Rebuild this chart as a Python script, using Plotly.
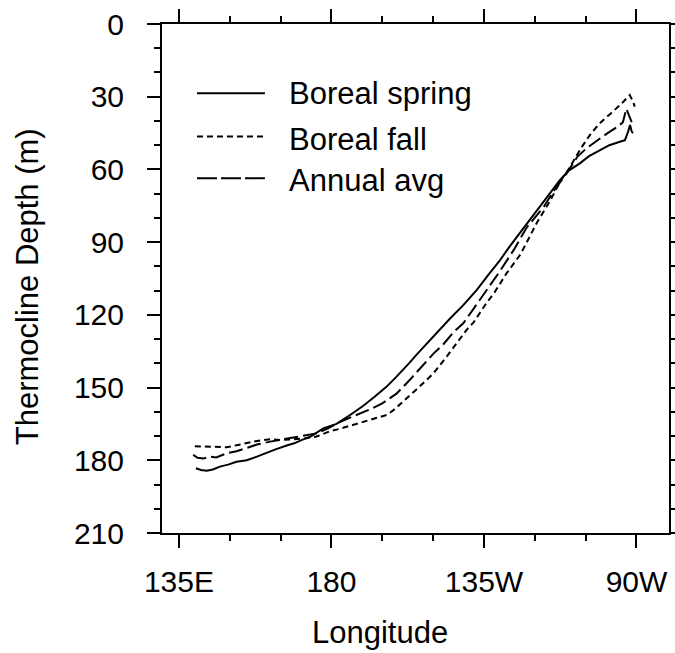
import plotly.graph_objects as go

# Longitude in degrees east (135E=135, 180=180, 135W=225, 90W=270)
spring_lon = [140.0, 141.5, 143.2, 145.0, 147.1, 149.5, 152.0, 155.0, 158.0, 160.5,
              163.5, 166.8, 169.0, 171.5, 173.7, 177.6, 181.5, 185.5, 189.4, 193.0,
              196.3, 199.0, 201.2, 203.0, 205.2, 208.5, 212.1, 215.0, 218.9, 222.9, 226.0,
              229.7, 233.0, 236.5, 239.6, 241.5, 244.5, 247.4, 250.0, 253.3, 256.0,
              259.2, 262.0, 265.1, 266.6, 267.5, 268.1, 268.6, 269.0]
spring_dep = [183.3, 184.0, 184.3, 183.8, 182.6, 181.8, 180.6, 180.0, 178.5, 177.0,
              175.5, 173.9, 173.0, 171.5, 170.3, 166.8, 165.0, 161.3, 157.5, 153.5,
              149.6, 145.8, 142.6, 139.8, 136.3, 131.3, 126.0, 121.5, 116.0, 109.7, 104.0,
              97.5, 91.0, 84.5, 78.5, 75.3, 69.5, 64.4, 60.5, 57.5, 54.5,
              52.0, 50.0, 48.6, 47.9, 44.5, 41.7, 44.4, 45.0]

fall_lon = [139.7, 142.0, 145.0, 149.1, 152.0, 155.0, 158.0, 161.9, 165.0, 168.7,
            172.0, 175.6, 179.6, 182.5, 186.0, 189.4, 193.0, 196.3, 198.3, 201.2,
            204.5, 208.1, 210.1, 214.0, 217.0, 220.0, 222.0, 225.8, 228.0, 231.6,
            235.8, 240.6, 244.5, 247.5, 250.4, 253.5, 256.6, 259.5, 262.5, 265.5,
            268.0, 269.0, 269.5]
fall_dep = [174.2, 174.3, 174.6, 174.6, 173.8, 173.0, 172.0, 171.3, 171.6, 171.3,
            171.0, 170.2, 168.0, 167.0, 165.5, 164.3, 162.8, 161.3, 159.3, 155.8,
            151.5, 146.8, 144.1, 137.2, 131.5, 126.0, 123.0, 115.0, 111.0, 103.0,
            95.0, 82.0, 73.0, 65.0, 59.0, 51.5, 45.1, 40.5, 36.8, 33.0,
            29.3, 32.0, 34.1]

annual_lon = [139.2, 140.5, 142.2, 144.0, 146.0, 149.1, 152.0, 155.0, 158.0, 161.9,
              165.0, 168.7, 172.0, 175.6, 179.0, 182.5, 187.0, 191.4, 195.0, 199.2,
              203.0, 206.2, 210.1, 213.1, 216.1, 218.9, 221.0, 225.0, 229.7, 233.8,
              237.6, 242.7, 246.0, 249.4, 252.6, 255.5, 258.5, 261.5, 264.4, 266.0,
              267.0, 268.0, 268.6]
annual_dep = [177.8, 179.0, 179.3, 178.5, 178.8, 177.1, 176.3, 175.0, 173.5, 172.3,
              171.5, 170.6, 170.0, 168.9, 166.8, 164.2, 161.5, 159.0, 156.5, 152.5,
              147.0, 142.0, 136.0, 132.0, 127.0, 123.5, 119.3, 111.5, 102.0, 93.2,
              84.0, 75.3, 68.0, 61.6, 54.7, 51.0, 47.9, 45.0, 42.4, 40.5,
              35.0, 38.5, 40.5]

x_tickvals = [135, 180, 225, 270]
x_ticktext = ["135E", "180", "135W", "90W"]
y_tickvals = [0, 30, 60, 90, 120, 150, 180, 210]

series_names = ["Boreal spring", "Boreal fall", "Annual avg"]

FONT = "Liberation Sans, Arial, sans-serif"

fig = go.Figure()
fig.add_trace(go.Scatter(x=spring_lon, y=spring_dep, mode="lines", name=series_names[0],
                         line=dict(color="black", width=2)))
fig.add_trace(go.Scatter(x=fall_lon, y=fall_dep, mode="lines", name=series_names[1],
                         line=dict(color="black", width=2, dash="6px,4px")))
fig.add_trace(go.Scatter(x=annual_lon, y=annual_dep, mode="lines", name=series_names[2],
                         line=dict(color="black", width=2, dash="14px,5px")))

axis_common = dict(showline=True, linecolor="black", linewidth=2, mirror="allticks",
                   ticks="outside", ticklen=13, tickwidth=2, tickcolor="black",
                   showgrid=False, zeroline=False, automargin=False,
                   tickfont=dict(family=FONT, size=30, color="black"))

fig.update_xaxes(range=[130, 279.6], tickmode="array", tickvals=x_tickvals, ticktext=x_ticktext,
                 ticklabelstandoff=8,
                 minor=dict(tickmode="linear", tick0=135, dtick=15, ticks="outside",
                            ticklen=6, tickwidth=1.5, tickcolor="black", showgrid=False),
                 **axis_common)
fig.update_yaxes(range=[210, 0], tickmode="array", tickvals=y_tickvals,
                 ticklabelstandoff=17,
                 minor=dict(tickmode="linear", tick0=0, dtick=10, ticks="outside",
                            ticklen=6, tickwidth=1.5, tickcolor="black", showgrid=False),
                 **axis_common)

# manual legend
legend_rows = [(0.864, 0.864, "solid"), (0.779, 0.773, "6px,4px"), (0.697, 0.692, "20px,4px")]
for (ly, ty, dash), name in zip(legend_rows, series_names):
    fig.add_shape(type="line", xref="paper", yref="paper", x0=0.069, x1=0.203, y0=ly, y1=ly,
                  line=dict(color="black", width=2, dash=dash))
    fig.add_annotation(xref="paper", yref="paper", x=0.247, y=ty, text=name, showarrow=False,
                       xanchor="left", yanchor="middle",
                       font=dict(family=FONT, size=31, color="black"))

fig.add_annotation(xref="paper", yref="paper", x=0.43, y=-0.195, text="Longitude",
                   showarrow=False, xanchor="center", yanchor="middle",
                   font=dict(family=FONT, size=31, color="black"))
fig.add_annotation(xref="paper", yref="paper", x=-0.266, y=0.483, text="Thermocline Depth (m)",
                   showarrow=False, textangle=-90, xanchor="center", yanchor="middle",
                   font=dict(family=FONT, size=31, color="black"))

fig.update_layout(width=675, height=653, margin=dict(l=162, r=6, t=24, b=120, autoexpand=False),
                  plot_bgcolor="white", paper_bgcolor="white", showlegend=False)

fig.write_html("out.html")
